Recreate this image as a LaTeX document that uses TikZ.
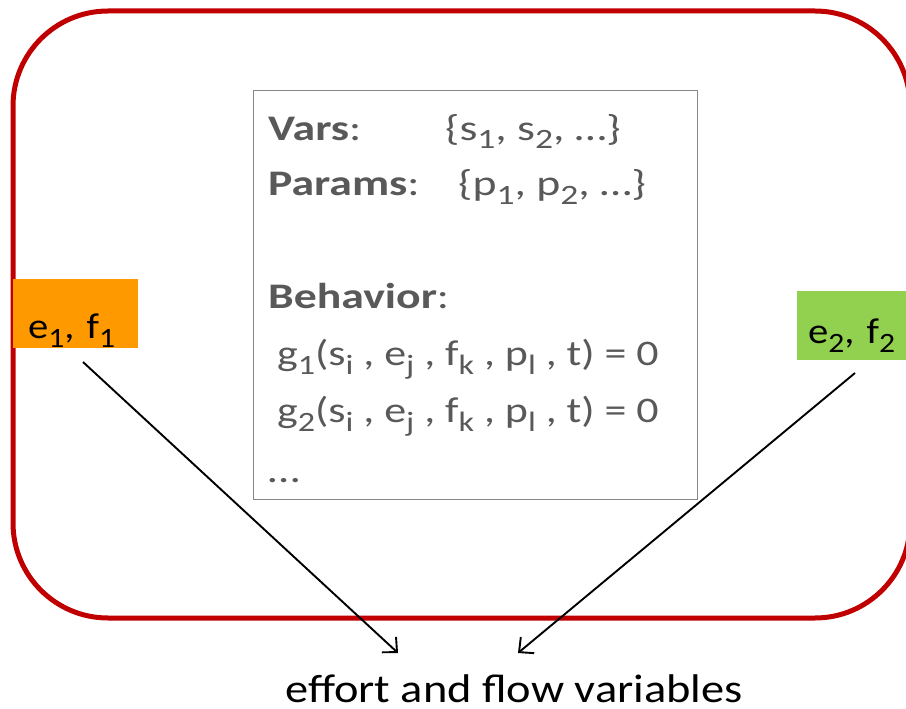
\documentclass[tikz,border=0pt]{standalone}
\usepackage{fontspec}
\setmainfont{Carlito}
\newfontfamily\modelfont{Carlito}[FakeStretch=1.27]
\newfontfamily\eqfont{Carlito}[FakeStretch=1.22]
\newfontfamily\portfont{Carlito}[FakeStretch=1.13]
\newfontfamily\labelfont{Carlito}[FakeStretch=1.16]
\usetikzlibrary{arrows.meta}

\definecolor{framered}{RGB}{192,0,0}
\definecolor{boxgray}{RGB}{134,134,134}
\definecolor{txtgray}{RGB}{89,89,89}
\definecolor{portorange}{RGB}{255,153,0}
\definecolor{portgreen}{RGB}{146,208,80}

% lowered, smaller index text
\newcommand{\idx}[2][0.25em]{\raisebox{-#1}{\fontsize{28}{28}\selectfont #2}}

\tikzset{
  modeltext/.style={font=\modelfont\fontsize{36}{40}\selectfont, text=txtgray,
    inner sep=0pt, anchor=base west},
  eqtext/.style={modeltext, font=\eqfont\fontsize{36}{40}\selectfont},
  port/.style={font=\portfont\fontsize{36}{40}\selectfont, inner ysep=0pt,
    anchor=north west, align=left},
  conn/.style={line width=1.9pt, -{Straight Barb[length=11pt,width=21pt,line width=1.9pt]}},
}

\begin{document}
\begin{tikzpicture}[x=1pt,y=-1pt]
\useasboundingbox (0,0) rectangle (906,709);

\begin{scope}
  \clip (0,0) rectangle (906,709);
  % component boundary
  \draw[framered, line width=5pt, rounded corners=95pt] (13,11) rectangle (910,618);
  % ports
  \node[port, fill=portorange, text width=95pt, inner xsep=15pt,
        text height=59pt, text depth=10pt] (e1) at (13,279) {e\idx{1}, f\idx{1}};
  \node[port, fill=portgreen, text width=98pt, inner xsep=11pt,
        text height=52pt, text depth=17pt] (e2) at (797,291) {e\idx{2}, f\idx{2}};
\end{scope}

% model description
\node[draw=boxgray, line width=1.3pt, minimum width=444pt, minimum height=409pt,
      inner sep=0pt, anchor=north west] (model) at (253,90) {};
\node[modeltext] (vars) at (268,140) {\textbf{Vars}:};
\node[modeltext] (varset) at (445,140) {\{s\idx{1}, s\idx{2}, …\}};
\node[modeltext] (params) at (268,195) {\textbf{Params}:};
\node[modeltext] (parset) at (458,195) {\{p\idx{1}, p\idx{2}, …\}};
\node[modeltext] (behav) at (268,308) {\textbf{Behavior}:};
\node[eqtext] (eqa) at (277,365) {g\idx{1}(s\idx{i} , e\idx{j} , f\idx{k} , p\idx{l} , t) = 0};
\node[eqtext] (eqb) at (277,422) {g\idx{2}(s\idx{i} , e\idx{j} , f\idx{k} , p\idx{l} , t) = 0};
\node[modeltext] (more) at (268,482) {…};

% shared variables
\node[font=\labelfont\fontsize{40}{44}\selectfont, inner sep=0pt, text depth=0pt,
      anchor=base] (vars-out) at (514,702) {effort and flow variables};

\coordinate (a1s) at (83,362);
\coordinate (a1e) at (398,653);
\coordinate (a2s) at (855,373);
\coordinate (a2e) at (518,653);
\draw[conn] (a1s) -- (a1e);
\draw[conn] (a2s) -- (a2e);
\end{tikzpicture}
\end{document}
